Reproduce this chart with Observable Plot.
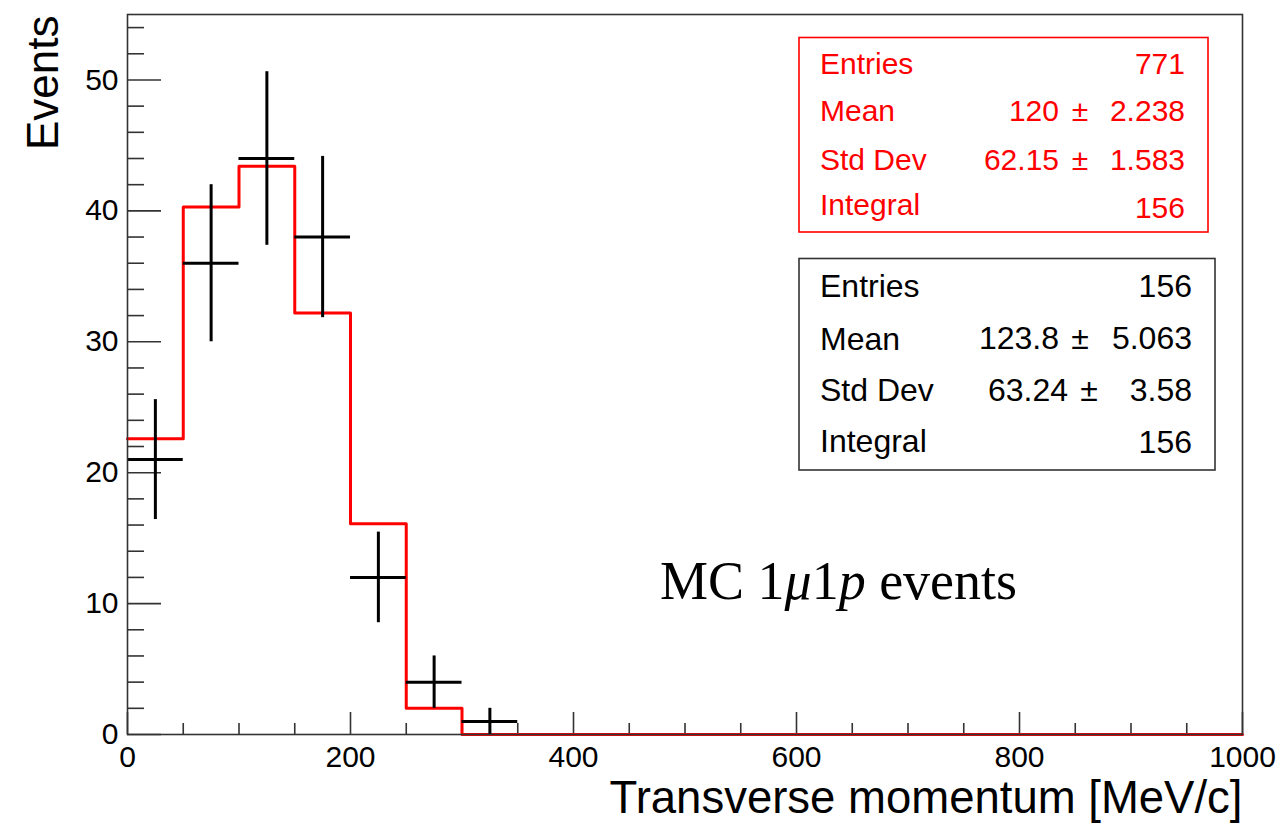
<!DOCTYPE html>
<html>
<head>
<meta charset="utf-8">
<script src="https://cdn.jsdelivr.net/npm/d3@7"></script>
<script src="https://cdn.jsdelivr.net/npm/@observablehq/plot@0.6"></script>
<style>
  html, body { margin: 0; padding: 0; background: #fff; }
  #chart { position: relative; width: 1280px; height: 825px; }
</style>
</head>
<body>
<div id="chart"></div>
<script>
// ---- Data ----
const binEdges = [0, 50, 100, 150, 200, 250, 300, 350, 400, 450, 500, 550, 600, 650, 700, 750, 800, 850, 900, 950, 1000];
const mcValues = [22.6, 40.3, 43.4, 32.2, 16.1, 2.0, 0, 0, 0, 0, 0, 0, 0, 0, 0, 0, 0, 0, 0, 0];
const dataCounts = [21, 36, 44, 38, 12, 4, 1, 0, 0, 0, 0, 0, 0, 0, 0, 0, 0, 0, 0, 0];
const dataErrors = [4.58, 6.0, 6.63, 6.16, 3.46, 2.0, 1.0, 0, 0, 0, 0, 0, 0, 0, 0, 0, 0, 0, 0, 0];

const xMajorTicks = [0, 200, 400, 600, 800, 1000];
const xMinorTicks = [50, 100, 150, 250, 300, 350, 450, 500, 550, 650, 700, 750, 850, 900, 950];
const yMajorTicks = [0, 10, 20, 30, 40, 50];
const yMinorTicks = [2, 4, 6, 8, 12, 14, 16, 18, 22, 24, 26, 28, 32, 34, 36, 38, 42, 44, 46, 48, 52, 54];

const xTitle = "Transverse momentum [MeV/c]";
const yTitle = "Events";

const mcStatLabels = ["Entries", "Mean", "Std Dev", "Integral"];
const mcStatValues = ["771", "120", "62.15", "156"];
const mcStatErrors = [null, "2.238", "1.583", null];
const dataStatLabels = ["Entries", "Mean", "Std Dev", "Integral"];
const dataStatValues = ["156", "123.8", "63.24", "156"];
const dataStatErrors = [null, "5.063", "3.58", null];

// ---- Derived tables ----
const mcSteps = binEdges.map((e, i) => ({x: e, y: mcValues[Math.min(i, mcValues.length - 1)]}));
const points = dataCounts
  .map((c, i) => ({lo: binEdges[i], hi: binEdges[i + 1], c, e: dataErrors[i]}))
  .filter(d => d.c > 0);

// ---- Layout ----
const W = 1280, H = 825;
const mL = 127, mR = 38, mT = 14, mB = 91;
const frameW = W - mL - mR, frameH = H - mT - mB;
const font = "'Liberation Sans', Arial, Helvetica, sans-serif";
const axisColor = "#333";

const plot = Plot.plot({
  width: W, height: H,
  marginLeft: mL, marginRight: mR, marginTop: mT, marginBottom: mB,
  x: {domain: [0, 1000]},
  y: {domain: [0, 55]},
  style: {fontFamily: font, color: "#000", background: "#fff", overflow: "visible"},
  marks: [
    Plot.tickX(xMajorTicks, {x: d => d, insetTop: frameH - 22, stroke: axisColor, strokeWidth: 1.6}),
    Plot.tickX(xMinorTicks, {x: d => d, insetTop: frameH - 11, stroke: axisColor, strokeWidth: 1.6}),
    Plot.tickY(yMajorTicks, {y: d => d, insetRight: frameW - 34, stroke: axisColor, strokeWidth: 1.6}),
    Plot.tickY(yMinorTicks, {y: d => d, insetRight: frameW - 17, stroke: axisColor, strokeWidth: 1.6}),
    Plot.axisX({ticks: xMajorTicks, tickSize: 0, tickPadding: 11, fontSize: 30, tickFormat: d => String(d), label: null}),
    Plot.axisY({ticks: yMajorTicks, tickSize: 0, tickPadding: 9, fontSize: 30, tickFormat: d => String(d), label: null}),
    Plot.line(mcSteps, {x: "x", y: "y", curve: "step-after", stroke: "#ff0000", strokeWidth: 3}),
    Plot.ruleX(points, {x: d => (d.lo + d.hi) / 2, y1: d => d.c - d.e, y2: d => d.c + d.e, stroke: "#000", strokeWidth: 3}),
    Plot.ruleY(points, {y: "c", x1: "lo", x2: "hi", stroke: "#000", strokeWidth: 3}),
    Plot.frame({stroke: axisColor, strokeWidth: 1.6}),
    Plot.text([xTitle], {text: d => d, frameAnchor: "bottom-right", textAnchor: "end", lineAnchor: "middle", dy: 64, dx: 0, fontSize: 45.5, fill: "#000"}),
    Plot.text([yTitle], {text: d => d, frameAnchor: "top-left", textAnchor: "end", lineAnchor: "middle", rotate: -90, dx: -84, dy: 1, fontSize: 44, fill: "#000"})
  ]
});

document.getElementById("chart").appendChild(plot);

// ---- Statistics boxes and annotation ----
const svg = d3.select(plot);
const g = svg.append("g").attr("font-family", font).attr("text-anchor", "start");

function statBox(cfg) {
  g.append("rect")
    .attr("x", cfg.x).attr("y", cfg.y).attr("width", cfg.w).attr("height", cfg.h)
    .attr("fill", "#fff").attr("stroke", cfg.border).attr("stroke-width", 1.6);
  cfg.labels.forEach((lab, i) => {
    g.append("text").attr("x", cfg.labelX).attr("y", cfg.labelY[i])
      .attr("text-anchor", "start")
      .attr("font-size", cfg.fs).attr("fill", cfg.color).text(lab);
    if (cfg.errors[i] == null) {
      g.append("text").attr("x", cfg.rightX).attr("y", cfg.valueY[i])
        .attr("text-anchor", "end").attr("font-size", cfg.fs).attr("fill", cfg.color).text(cfg.values[i]);
    } else {
      g.append("text").attr("x", cfg.pmX[i] - 21).attr("y", cfg.valueY[i])
        .attr("text-anchor", "end").attr("font-size", cfg.fs).attr("fill", cfg.color).text(cfg.values[i]);
      g.append("text").attr("x", cfg.pmX[i]).attr("y", cfg.valueY[i])
        .attr("text-anchor", "middle").attr("font-size", cfg.fs).attr("fill", cfg.color).text("±");
      g.append("text").attr("x", cfg.rightX).attr("y", cfg.valueY[i])
        .attr("text-anchor", "end").attr("font-size", cfg.fs).attr("fill", cfg.color).text(cfg.errors[i]);
    }
  });
}

statBox({
  x: 799, y: 37.5, w: 409, h: 194.5, border: "#ff0000", color: "#ff0000", fs: 30,
  labelX: 820, rightX: 1185,
  labelY: [73.5, 121, 170, 214.5], valueY: [73.5, 121, 170, 218],
  pmX: [1080, 1080, 1080, 1080],
  labels: mcStatLabels, values: mcStatValues, errors: mcStatErrors
});

statBox({
  x: 799, y: 258.5, w: 416, h: 211.5, border: axisColor, color: "#000", fs: 32,
  labelX: 820, rightX: 1192,
  labelY: [297, 350, 401, 451.5], valueY: [297, 349, 401, 452.5],
  pmX: [1080, 1080, 1089, 1080],
  labels: dataStatLabels, values: dataStatValues, errors: dataStatErrors
});

const mc = g.append("text").attr("x", 660).attr("y", 599)
  .attr("text-anchor", "start")
  .attr("font-family", "'Liberation Serif', 'Times New Roman', serif")
  .attr("font-size", 54).attr("fill", "#000");
mc.append("tspan").text("MC 1");
mc.append("tspan").attr("font-style", "italic").text("μ");
mc.append("tspan").text("1");
mc.append("tspan").attr("font-style", "italic").text("p");
mc.append("tspan").text(" events");
</script>
</body>
</html>
